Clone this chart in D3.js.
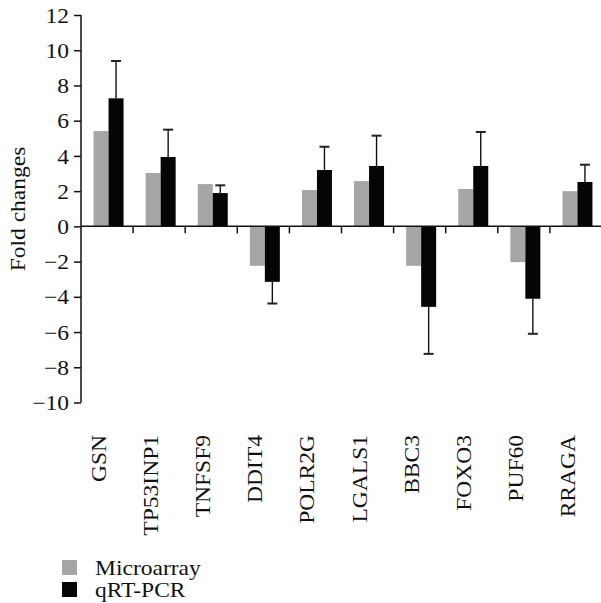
<!DOCTYPE html>
<html><head><meta charset="utf-8">
<script src="https://cdn.jsdelivr.net/npm/d3@7"></script>
<style>body{margin:0;background:#fff}svg{display:block}text{font-family:"Liberation Serif","Times New Roman",serif;fill:#111}</style>
</head><body>
<script>
const categories=["GSN","TP53INP1","TNFSF9","DDIT4","POLR2G","LGALS1","BBC3","FOXO3","PUF60","RRAGA"];
const microarray=[5.41,3.03,2.40,-2.24,2.06,2.57,-2.24,2.12,-2.03,2.00];
const qrtpcr=[7.27,3.94,1.89,-3.15,3.20,3.43,-4.57,3.43,-4.11,2.52];
const qrtpcrErr=[2.12,1.55,0.44,1.23,1.32,1.72,2.67,1.93,1.99,0.98];
const yTicks=[12,10,8,6,4,2,0,-2,-4,-6,-8,-10];
const seriesNames=["Microarray","qRT-PCR"];
const colors=["#a6a6a6","#050505"];

const W=601,H=603;
const FS=21, STRETCH=1.12;
const svg=d3.select("body").append("svg").attr("width",W).attr("height",H);
const y=d3.scaleLinear().domain([-10,12]).range([402.5,15]);
const x=d3.scaleBand().domain(categories).range([81,602]);
const x1=d3.scaleBand().domain([0,1]).range([0,30]);
const bw=15;

function stretch(sel){
  sel.each(function(){
    const L=this.getComputedTextLength();
    d3.select(this).attr("textLength",L*STRETCH).attr("lengthAdjust","spacingAndGlyphs");
  });
}

// bars
const g=svg.append("g");
categories.forEach((c,i)=>{
  const cx=x(c)+x.bandwidth()/2+1.5;
  [microarray[i],qrtpcr[i]].forEach((v,k)=>{
    g.append("rect").attr("x",cx-15+x1(k)).attr("width",bw)
     .attr("y",y(Math.max(0,v))).attr("height",Math.abs(y(v)-y(0)))
     .attr("fill",colors[k]);
  });
  const v=qrtpcr[i], e=qrtpcrErr[i];
  const end=v>=0?v+e:v-e;
  const ex=cx-15+x1(1)+bw/2;
  g.append("line").attr("x1",ex).attr("x2",ex).attr("y1",y(v)).attr("y2",y(end)).attr("stroke","#111").attr("stroke-width",1.4);
  g.append("line").attr("x1",ex-5).attr("x2",ex+5).attr("y1",y(end)).attr("y2",y(end)).attr("stroke","#222").attr("stroke-width",2);
});

// y axis
const ya=svg.append("g").attr("transform","translate(81,0)")
  .call(d3.axisLeft(y).tickValues(yTicks).tickSize(7).tickPadding(5).tickFormat(d=>d<0?"\u2212"+Math.abs(d):d));
ya.attr("font-family",null).attr("font-size",null);
ya.select(".domain").attr("stroke","#111").attr("stroke-width",1.5).attr("d","M0,15V402.5");
ya.selectAll(".tick line").attr("stroke","#111").attr("stroke-width",1.5);
ya.selectAll(".tick text").attr("font-size",FS).attr("fill","#111").attr("dy","0.34em").call(stretch);

// x axis at zero
const xa=svg.append("g").attr("transform",`translate(0,${y(0)})`);
xa.append("line").attr("x1",81).attr("x2",601).attr("stroke","#111").attr("stroke-width",1.5);
categories.slice(1).forEach(c=>{
  xa.append("line").attr("x1",x(c)).attr("x2",x(c)).attr("y1",0).attr("y2",7).attr("stroke","#111").attr("stroke-width",1.5);
});

// category labels
categories.forEach(c=>{
  const cx=x(c)+x.bandwidth()/2-1;
  svg.append("text").attr("transform",`translate(${cx},435) rotate(-90)`)
    .attr("text-anchor","end").attr("font-size",FS).text(c).call(stretch);
});

// y label
svg.append("text").attr("transform","translate(25,209) rotate(-90)")
  .attr("text-anchor","middle").attr("font-size",FS).attr("fill","#111").text("Fold changes").call(stretch);

// legend
seriesNames.forEach((n,k)=>{
  svg.append("rect").attr("x",62).attr("y",560+k*22).attr("width",15).attr("height",15).attr("fill",colors[k]);
  svg.append("text").attr("x",95).attr("y",575+k*22).attr("font-size",FS).text(n).call(stretch);
});
</script>
</body></html>
